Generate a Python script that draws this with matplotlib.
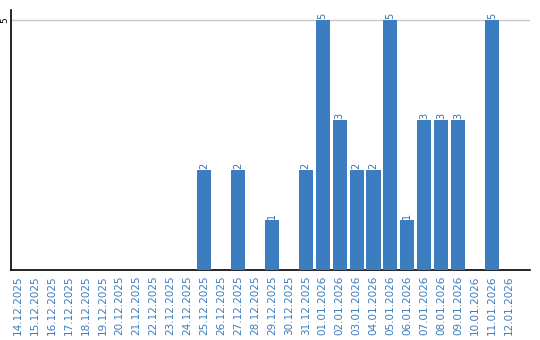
import matplotlib
matplotlib.use("Agg")
import matplotlib.pyplot as plt

dates = ["14.12.2025", "15.12.2025", "16.12.2025", "17.12.2025", "18.12.2025",
         "19.12.2025", "20.12.2025", "21.12.2025", "22.12.2025", "23.12.2025",
         "24.12.2025", "25.12.2025", "26.12.2025", "27.12.2025", "28.12.2025",
         "29.12.2025", "30.12.2025", "31.12.2025", "01.01.2026", "02.01.2026",
         "03.01.2026", "04.01.2026", "05.01.2026", "06.01.2026", "07.01.2026",
         "08.01.2026", "09.01.2026", "10.01.2026", "11.01.2026", "12.01.2026"]
values = [0, 0, 0, 0, 0, 0, 0, 0, 0, 0,
          0, 2, 0, 2, 0, 1, 0, 2, 5, 3,
          2, 2, 5, 1, 3, 3, 3, 0, 5, 0]

bar_color = "#3b7dc0"
label_color = "#3a7cc0"

fig = plt.figure(figsize=(5.4, 3.4), dpi=100)
ax = fig.add_axes([0.0204, 0.206, 0.9611, 0.764])

x = list(range(len(dates)))
bars = ax.bar(x, values, width=0.83, color=bar_color, zorder=3)
for xi, v in zip(x, values):
    if v > 0:
        ax.text(xi, v + 0.03, str(v), rotation=90, ha="center", va="bottom",
                fontsize=7, color="#3b6fa8")

ax.set_xlim(-0.4, 30.24)
ax.set_ylim(0, 5.2)
ax.set_yticks([5])
ax.set_yticklabels(["5"], rotation=90, va="center", ha="right", fontsize=6.5)
ax.yaxis.grid(True, color="#c8c8c8", linewidth=1, zorder=0)
ax.tick_params(axis="y", length=0, pad=1)
ax.set_xticks(x)
ax.set_xticklabels(dates, rotation=90, fontsize=7.5, color=label_color)
ax.tick_params(axis="x", length=0, pad=4)

for s in ["top", "right"]:
    ax.spines[s].set_visible(False)
ax.spines["left"].set_color("black")
ax.spines["bottom"].set_color("black")
ax.spines["left"].set_linewidth(1.2)
ax.spines["bottom"].set_linewidth(1.2)

fig.savefig("out.png", dpi=100)
